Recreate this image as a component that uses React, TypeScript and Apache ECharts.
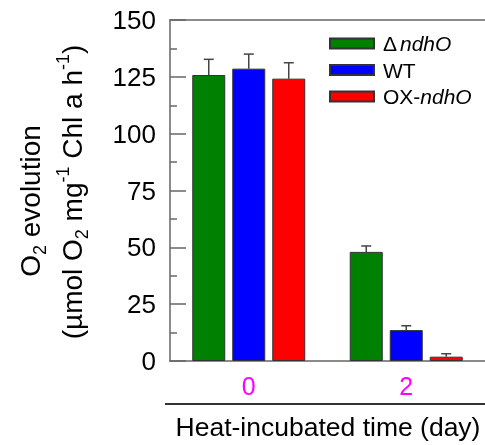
import React, { useEffect, useRef } from "react";
import * as echarts from "echarts";

const categories = ["0", "2"];
const seriesNames = ["ΔndhO", "WT", "OX-ndhO"];
const seriesColors = ["#008000", "#0000ff", "#ff0000"];
const dndhOValues = [125.8, 48.0];
const wtValues = [128.6, 13.6];
const oxValues = [124.2, 1.9];
const dndhOErrors = [6.9, 2.6];
const wtErrors = [6.4, 1.9];
const oxErrors = [7.0, 1.3];
const yMin = 0;
const yMax = 150;
const yInterval = 25;

const FONT = '"Liberation Sans", Arial, sans-serif';
const BAR_W = 33;
const BAR_GAP = 7;
const AXIS_COLOR = "#666";

const legendRich: Record<string, string> = {
  "ΔndhO": "{r|Δ}{g|}{i|ndhO}",
  WT: "{r|WT}",
  "OX-ndhO": "{r|OX-}{i|ndhO}",
};

export default function App() {
  const ref = useRef<HTMLDivElement>(null);
  useEffect(() => {
    if (!ref.current) return;
    const chart = echarts.init(ref.current, null, { renderer: "svg" });
    const valueSets = [dndhOValues, wtValues, oxValues];
    const errorSets = [dndhOErrors, wtErrors, oxErrors];
    const step = BAR_W + BAR_GAP;

    const barSeries = seriesNames.map((name, i) => ({
      name,
      type: "bar",
      data: valueSets[i],
      barWidth: BAR_W,
      barGap: `${(BAR_GAP / BAR_W) * 100}%`,
      itemStyle: { color: seriesColors[i], borderColor: "#333", borderWidth: 1 },
      z: 2,
    }));

    const errSeries = seriesNames.map((name, i) => ({
      name: name + "-err",
      type: "custom",
      z: 3,
      data: valueSets[i].map((v, k) => [k, v, errorSets[i][k]]),
      renderItem: (params: any, api: any) => {
        const cat = api.value(0);
        const v = api.value(1);
        const e = api.value(2);
        const base = api.coord([cat, v]);
        const top = api.coord([cat, v + e]);
        const x = base[0] + (i - 1) * step;
        const st = { stroke: "#444", lineWidth: 1.5 };
        return {
          type: "group",
          children: [
            { type: "line", shape: { x1: x, y1: base[1], x2: x, y2: top[1] }, style: st },
            { type: "line", shape: { x1: x - 5, y1: top[1], x2: x + 5, y2: top[1] }, style: st },
          ],
        };
      },
    }));

    const supRich = {
      a: { fontSize: 28, lineHeight: 37, fontFamily: FONT, color: "#000" },
      s: { fontSize: 18, lineHeight: 18, verticalAlign: "bottom", fontFamily: FONT, color: "#000" },
      p: { fontSize: 18, lineHeight: 18, verticalAlign: "top", fontFamily: FONT, color: "#000" },
    };

    chart.setOption({
      animation: false,
      grid: { left: 170, right: 0, top: 20, bottom: 84, containLabel: false },
      legend: {
        data: seriesNames,
        orient: "vertical",
        left: 329,
        top: 33,
        padding: 0,
        itemWidth: 44,
        itemHeight: 10,
        itemGap: 5.5,
        icon: "rect",
        formatter: (n: string) => legendRich[n] || n,
        textStyle: {
          fontFamily: FONT,
          fontSize: 21,
          color: "#000",
          lineHeight: 20,
          padding: [0, 0, 0, 4],
          rich: {
            r: { fontFamily: FONT, fontSize: 21, lineHeight: 20, color: "#000" },
            g: { width: 3, lineHeight: 20 },
            i: { fontFamily: FONT, fontSize: 21, lineHeight: 20, fontStyle: "italic", color: "#000" },
          },
        },
      },
      xAxis: [
        {
          type: "category",
          data: categories,
          position: "bottom",
          axisLine: { show: true, lineStyle: { color: AXIS_COLOR, width: 1.5 } },
          axisTick: { show: false },
          axisLabel: { color: "#ff00ff", fontSize: 25, fontFamily: FONT, margin: 12 },
        },
        {
          type: "category",
          data: categories,
          position: "top",
          axisLine: { show: true, lineStyle: { color: AXIS_COLOR, width: 1.5 } },
          axisTick: { show: false },
          axisLabel: { show: false },
        },
      ],
      yAxis: {
        type: "value",
        min: yMin,
        max: yMax,
        interval: yInterval,
        axisLine: { show: true, lineStyle: { color: AXIS_COLOR, width: 1.5 } },
        axisTick: { show: true, inside: true, length: 16, lineStyle: { color: AXIS_COLOR, width: 1.5 } },
        minorTick: { show: true, splitNumber: 2, length: 7, lineStyle: { color: AXIS_COLOR, width: 1.5 } },
        splitLine: { show: false },
        axisLabel: { color: "#000", fontSize: 26, fontFamily: FONT, margin: 14 },
      },
      graphic: [
        {
          type: "text",
          x: 30,
          y: 201,
          rotation: Math.PI / 2,
          style: {
            text: "{a|O}{s|2}{a| evolution}",
            rich: supRich,
            align: "center",
            verticalAlign: "middle",
          },
        },
        {
          type: "text",
          x: 72,
          y: 192,
          rotation: Math.PI / 2,
          style: {
            text: "{a|(µmol O}{s|2}{a| mg}{p|-1}{a| Chl a h}{p|-1}{a|)}",
            rich: supRich,
            align: "center",
            verticalAlign: "middle",
          },
        },
        {
          type: "line",
          shape: { x1: 165, y1: 404, x2: 485, y2: 404 },
          style: { stroke: "#333", lineWidth: 2 },
        },
        {
          type: "text",
          x: 328,
          y: 427,
          style: {
            text: "Heat-incubated time (day)",
            fontSize: 26.5,
            fontFamily: FONT,
            fill: "#000",
            align: "center",
            verticalAlign: "middle",
          },
        },
      ],
      series: [...barSeries, ...errSeries],
    });
    return () => chart.dispose();
  }, []);
  return (
    <div
      ref={ref}
      style={{ position: "fixed", left: 0, top: 0, width: 485, height: 445 }}
    />
  );
}
